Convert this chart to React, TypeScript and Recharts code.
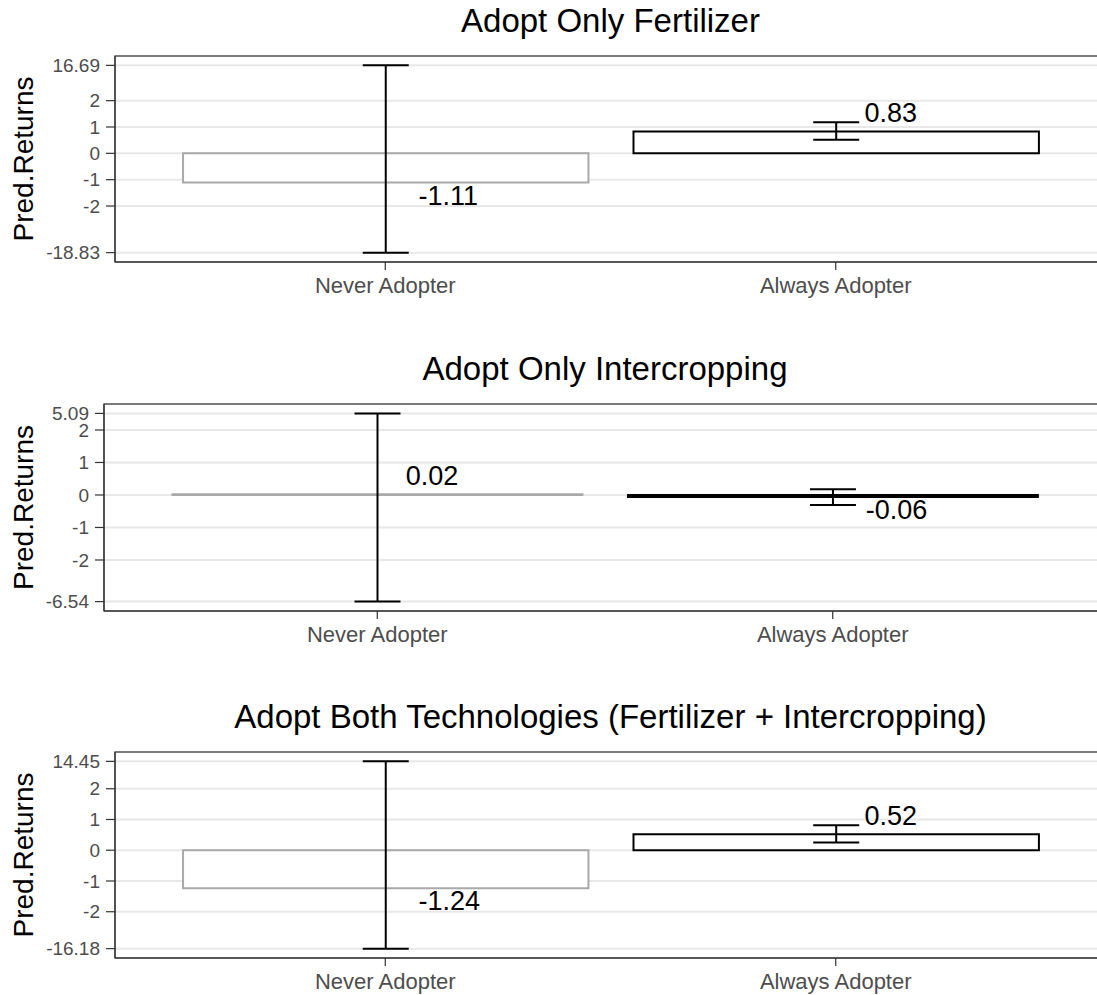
import { Bar, CartesianGrid, Cell, ComposedChart, ErrorBar, LabelList, XAxis, YAxis } from 'recharts'

const groups = ['Never Adopter', 'Always Adopter']

const fertMean = [-1.11, 0.83]
const fertLow = [-18.83, 0.52]
const fertHigh = [16.69, 1.18]
const fertTicks = [-18.83, -2, -1, 0, 1, 2, 16.69]

const interMean = [0.02, -0.06]
const interLow = [-6.54, -0.31]
const interHigh = [5.09, 0.18]
const interTicks = [-6.54, -2, -1, 0, 1, 2, 5.09]

const bothMean = [-1.24, 0.52]
const bothLow = [-16.18, 0.25]
const bothHigh = [14.45, 0.81]
const bothTicks = [-16.18, -2, -1, 0, 1, 2, 14.45]

// where the outer (extreme) ticks sit on the squashed axis, in inner-unit terms
const fertSquash = [-3.77, 3.34]
const interSquash = [-3.28, 2.51]
const bothSquash = [-3.2, 2.89]

const FONT = '"Liberation Sans", Arial, sans-serif'
const PLOT_RIGHT = 1106
const strokes = ['#a9a9a9', '#000000']

function makeWarp(ticks: number[], squash: number[]) {
  const lo = ticks[0]
  const hi = ticks[ticks.length - 1]
  return (v: number) => {
    if (v > 2) return 2 + ((v - 2) / (hi - 2)) * (squash[1] - 2)
    if (v < -2) return -2 + ((v + 2) / (lo + 2)) * (squash[0] + 2)
    return v
  }
}

function textWidth(s: string, size: number) {
  let w = 0
  for (const ch of s) w += ch === '.' ? 0.278 : ch === '-' ? 0.333 : 0.556
  return w * size
}

const renderValue = (props: any) => {
  const x = Number(props.x)
  const y = Number(props.y)
  const width = Number(props.width)
  const height = Number(props.height)
  const value = Number(props.value)
  const cx = x + width / 2
  const yTop = Math.min(y, y + height)
  const yBot = Math.max(y, y + height)
  const txt = value.toFixed(2)
  const tw = textWidth(txt, 27)
  return (
    <text
      x={cx + tw / 2 + 2}
      y={value >= 0 ? yTop - 9 : yBot + 22}
      fontSize={27}
      fontFamily={FONT}
      fill="#000"
      textAnchor="start"
    >
      {txt}
    </text>
  )
}

interface PanelProps {
  title: string
  mean: number[]
  low: number[]
  high: number[]
  ticks: number[]
  squash: number[]
  left: number
  top: number
  bottom: number
}

function Panel({ title, mean, low, high, ticks, squash, left, top, bottom }: PanelProps) {
  const warp = makeWarp(ticks, squash)
  const span = squash[1] - squash[0]
  const domain = [squash[0] - 0.05 * span, squash[1] + 0.05 * span]
  const tickPos = ticks.map(warp)
  const data = groups.map((name, i) => ({
    name,
    mean: mean[i],
    w: warp(mean[i]),
    err: [warp(mean[i]) - warp(low[i]), warp(high[i]) - warp(mean[i])],
  }))
  const plotW = PLOT_RIGHT - left
  const unit = plotW / 2.2
  const chartTop = top - 10
  const chartH = bottom - top + 10 + 50
  const cy = (top + bottom) / 2

  return (
    <>
      <div style={{ position: 'absolute', left: 0, top: chartTop }}>
        <ComposedChart
          width={1110}
          height={chartH}
          data={data}
          margin={{ top: 10, right: 1110 - PLOT_RIGHT, bottom: 10, left: 0 }}
        >
          <CartesianGrid vertical={false} stroke="#e8e8e8" strokeWidth={2} />
          <XAxis
            dataKey="name"
            type="category"
            interval={0}
            height={40}
            padding={{ left: unit * 0.1, right: unit * 0.1 }}
            axisLine={{ stroke: '#333333', strokeWidth: 1.2 }}
            tickLine={{ stroke: '#333333', strokeWidth: 1.2 }}
            tickSize={8}
            tickMargin={7}
            tick={{ fontSize: 22, fill: '#4d4d4d', fontFamily: FONT }}
          />
          <YAxis
            type="number"
            width={left}
            domain={domain}
            allowDataOverflow
            ticks={tickPos}
            interval={0}
            tickFormatter={(v: number) => {
              const i = tickPos.findIndex((t) => Math.abs(t - v) < 1e-6)
              return i >= 0 ? String(ticks[i]) : ''
            }}
            axisLine={{ stroke: '#333333', strokeWidth: 1.2 }}
            tickLine={{ stroke: '#333333', strokeWidth: 1.2 }}
            tickSize={9}
            tickMargin={6}
            tick={{ fontSize: 19, fill: '#4d4d4d', fontFamily: FONT }}
          />
          <Bar dataKey="w" barSize={unit * 0.9} fill="#ffffff" strokeWidth={2} isAnimationActive={false}>
            {data.map((d, i) => (
              <Cell key={d.name} stroke={strokes[i]} />
            ))}
            <ErrorBar dataKey="err" direction="y" width={23} stroke="#000000" strokeWidth={2} isAnimationActive={false} />
            <LabelList dataKey="mean" content={renderValue} />
          </Bar>
        </ComposedChart>
      </div>
      <svg
        width={1110}
        height={bottom + 10}
        style={{ position: 'absolute', left: 0, top: 0, pointerEvents: 'none', overflow: 'visible' }}
      >
        <rect x={left} y={top} width={plotW} height={bottom - top} fill="none" stroke="#333333" strokeWidth={1.2} />
        <text x={(left + PLOT_RIGHT) / 2} y={top - 24} textAnchor="middle" fontSize={33} fontFamily={FONT} fill="#000">
          {title}
        </text>
        <text
          x={33}
          y={cy}
          transform={`rotate(-90 33 ${cy})`}
          textAnchor="middle"
          fontSize={28}
          fontFamily={FONT}
          fill="#000"
        >
          Pred.Returns
        </text>
      </svg>
    </>
  )
}

export default function App() {
  return (
    <div
      style={{
        position: 'absolute',
        left: 0,
        top: 0,
        width: 1097,
        height: 995,
        overflow: 'hidden',
        background: '#ffffff',
      }}
    >
      <Panel
        title="Adopt Only Fertilizer"
        mean={fertMean}
        low={fertLow}
        high={fertHigh}
        ticks={fertTicks}
        squash={fertSquash}
        left={115}
        top={56}
        bottom={262}
      />
      <Panel
        title="Adopt Only Intercropping"
        mean={interMean}
        low={interLow}
        high={interHigh}
        ticks={interTicks}
        squash={interSquash}
        left={104}
        top={404}
        bottom={611}
      />
      <Panel
        title="Adopt Both Technologies (Fertilizer + Intercropping)"
        mean={bothMean}
        low={bothLow}
        high={bothHigh}
        ticks={bothTicks}
        squash={bothSquash}
        left={115}
        top={752}
        bottom={958}
      />
    </div>
  )
}
